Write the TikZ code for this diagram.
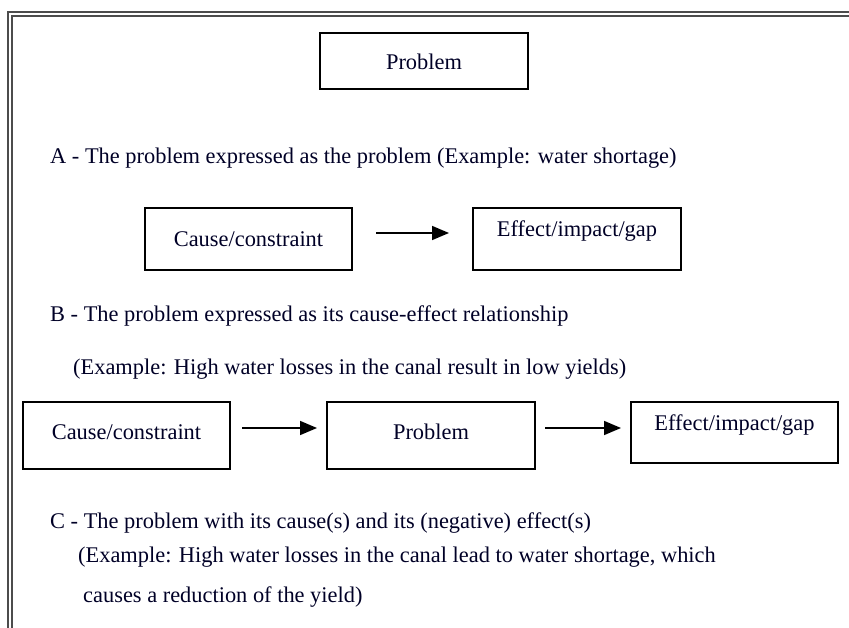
\documentclass[tikz,border=0pt]{standalone}
\usepackage{fontspec}
\setmainfont{Liberation Serif}
\usetikzlibrary{arrows.meta}
\begin{document}
\begin{tikzpicture}[x=1pt,y=-1pt,
  every node/.style={font=\fontsize{22.4}{26}\selectfont, text=black!85!blue},
  box/.style={draw=black, line width=1.3pt},
  lbl/.style={anchor=west, inner sep=0pt},
  flow/.style={line width=1.6pt, -{Triangle[length=17pt,width=14pt]}},
  frame/.style={draw=black!70, line width=1.3pt}
]
\useasboundingbox (0,0) rectangle (849,628);
% double rule along the top and left edge
\draw[frame] (8,628) -- (8,12) -- (849,12);
\draw[frame] (12,628) -- (12,16) -- (849,16);

% heading box
\draw[box] (320,33) rectangle (528,89);
\node (prob) at (424,62) {Problem};

% part A
\node[lbl] (ta) at (50,158) {A - The problem expressed as the problem (Example: water shortage)};
\draw[box] (145,208) rectangle (352,270);
\node (ca1) at (248.5,239) {Cause/constraint};
\draw[box] (473,208) rectangle (681,270);
\node (ef1) at (577,231) {Effect/impact/gap};
\coordinate (a1s) at (376,233);
\coordinate (a1e) at (449,233);
\draw[flow] (a1s) -- (a1e);

% part B
\node[lbl] (tb) at (50,316) {B - The problem expressed as its cause-effect relationship};
\node[lbl] (tbx) at (73,369) {(Example: High water losses in the canal result in low yields)};
\draw[box] (23,402) rectangle (230,469);
\node (ca2) at (126.5,432) {Cause/constraint};
\draw[box] (327,402) rectangle (535,469);
\node (pr2) at (431,432) {Problem};
\draw[box] (631,402) rectangle (838,463);
\node (ef2) at (734.5,425) {Effect/impact/gap};
\coordinate (b1s) at (242,428);
\coordinate (b1e) at (317,428);
\coordinate (b2s) at (545,428);
\coordinate (b2e) at (621,428);
\draw[flow] (b1s) -- (b1e);
\draw[flow] (b2s) -- (b2e);

% part C
\node[lbl] (tc) at (50,523) {C - The problem with its cause(s) and its (negative) effect(s)};
\node[lbl] (tcx) at (78,557) {(Example: High water losses in the canal lead to water shortage, which};
\node[lbl] (tcy) at (83,597) {causes a reduction of the yield)};
\end{tikzpicture}
\end{document}
